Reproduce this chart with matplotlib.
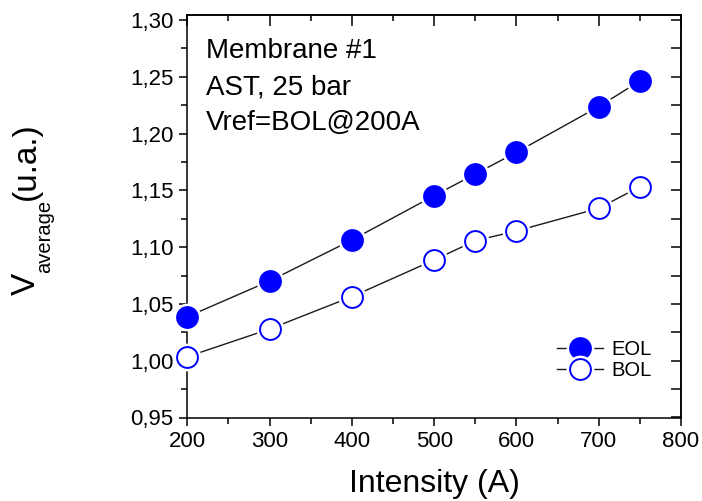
import matplotlib
matplotlib.use("Agg")
import matplotlib.pyplot as plt
from matplotlib.ticker import MultipleLocator, FuncFormatter

plt.rcParams['font.family'] = ['Liberation Sans', 'DejaVu Sans']

intensity = [200, 300, 400, 500, 550, 600, 700, 750]
eol = [1.0387, 1.0702, 1.1063, 1.1453, 1.1644, 1.1835, 1.2237, 1.2463]
bol = [1.0035, 1.0279, 1.0564, 1.0887, 1.1057, 1.1142, 1.1342, 1.1532]
series_labels = ["EOL", "BOL"]
annotation_lines = ["Membrane #1", "AST, 25 bar", "Vref=BOL@200A"]

W, H = 702, 501
fig = plt.figure(figsize=(W / 100, H / 100), dpi=100)
ax = fig.add_axes([187.3 / W, 1 - 417.5 / H, (681 - 187.3) / W, (417.5 - 15.3) / H])

blue = '#0000ff'
ms = 15
handles = []
for vals, filled in [(eol, True), (bol, False)]:
    ln, = ax.plot(intensity, vals, '-', color='#1a1a1a', lw=1.0, zorder=2, clip_on=False)
    wm, = ax.plot(intensity, vals, 'o', ls='none', ms=ms + 5, mfc='white', mec='none', zorder=3, clip_on=False)
    mk, = ax.plot(intensity, vals, 'o', ls='none', ms=ms, mfc=blue if filled else 'white',
                  mec=blue, mew=1.4, zorder=4, clip_on=False)
    handles.append((ln, wm, mk))

ax.set_xlim(200, 800)
ax.set_ylim(0.95, 1.30 + 4.7 / 1135.7)
ax.xaxis.set_major_locator(MultipleLocator(100))
ax.xaxis.set_minor_locator(MultipleLocator(50))
ax.yaxis.set_major_locator(MultipleLocator(0.05))
ax.yaxis.set_minor_locator(MultipleLocator(0.025))
ax.yaxis.set_major_formatter(FuncFormatter(lambda v, p: f"{v:.2f}".replace('.', ',')))

for s in ax.spines.values():
    s.set_linewidth(1.1)
ax.tick_params(which='both', direction='out', width=1.1, labelsize=16, pad=4, top=False, right=False)
ax.tick_params(which='major', length=6)
ax.tick_params(which='minor', length=4)

# inward ticks on top and right
secx = ax.secondary_xaxis('top')
secx.xaxis.set_major_locator(MultipleLocator(100))
secx.xaxis.set_minor_locator(MultipleLocator(50))
secx.tick_params(which='both', direction='in', width=1.1, labeltop=False)
secx.tick_params(which='major', length=8)
secx.tick_params(which='minor', length=4)
secy = ax.secondary_yaxis('right')
secy.yaxis.set_major_locator(MultipleLocator(0.05))
secy.yaxis.set_minor_locator(MultipleLocator(0.025))
secy.tick_params(which='both', direction='in', width=1.1, labelright=False, length=7)
for s in list(secx.spines.values()) + list(secy.spines.values()):
    s.set_linewidth(1.1)

fig.text(434 / W, 1 - 484 / H, "Intensity (A)", fontsize=23, ha='center', va='center')

# y label: V, subscript "average", "(u.a.)"
kw = dict(rotation=90, rotation_mode='anchor', ha='left', va='baseline')
fig.text(35 / W, 1 - 295 / H, "V", fontsize=24, **kw)
fig.text(50 / W, 1 - 273 / H, "average", fontsize=14.5, **kw)
fig.text(35 / W, 1 - 200 / H, "(u.a.)", fontsize=24, **kw)

for i, t in enumerate(annotation_lines):
    fig.text(206 / W, 1 - (58 + 36 * i) / H, t, fontsize=20, ha='left', va='baseline')

leg = ax.legend(handles, series_labels, loc='center', bbox_to_anchor=(604 / W, 1 - 360 / H),
                bbox_transform=fig.transFigure, frameon=False, fontsize=14.5,
                handlelength=2.3, handletextpad=0.4, labelspacing=0.1, borderpad=0)

fig.savefig("out.png", dpi=100)
